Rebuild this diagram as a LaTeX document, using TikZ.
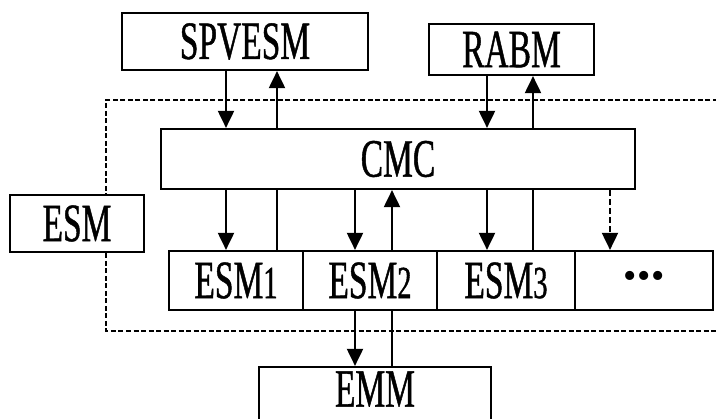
\documentclass[tikz,border=0pt]{standalone}
\usepackage{fontspec}
\setmainfont[FakeStretch=0.62,FakeBold=0.8]{Liberation Serif}
\newfontfamily\dotfont{Liberation Serif}
\usetikzlibrary{arrows.meta}
\newcommand\idx[1]{{\fontsize{46}{46}\selectfont #1}}
\begin{document}
\begin{tikzpicture}[x=1pt,y=-1pt,
  box/.style={draw, line width=2.2pt, fill=white, inner sep=0pt,
              font=\fontsize{54}{54}\selectfont},
  arr/.style={line width=2pt, -{Triangle[width=16pt,length=17pt]}},
  link/.style={line width=2pt},
  frame/.style={line width=1.9pt, dash pattern=on 5pt off 2.5pt},
  darr/.style={line width=1.9pt, dash pattern=on 6pt off 3pt,
               -{Triangle[width=16pt,length=17pt]}}]
\clip (0,0) rectangle (716,419);
\fill[white] (0,0) rectangle (716,419);

% dashed ESM frame (open towards the right)
\draw[frame] (740,100) -- (106,100) -- (106,331) -- (740,331);

% boxes
\node[box, minimum width=246pt, minimum height=57pt] (spvesm) at (245,41.5) {SPVESM};
\node[box, minimum width=165pt, minimum height=51pt] (rabm) at (511.5,49.5) {RABM};
\node[box, minimum width=474pt, minimum height=60pt] (cmc) at (398,159) {CMC};
\node[box, minimum width=134pt, minimum height=57pt] (esm) at (77,223.5) {ESM};
\node[box, minimum width=134pt, minimum height=59pt] (esm1) at (236,280.5) {ESM\idx{1}};
\node[box, minimum width=134pt, minimum height=59pt] (esm2) at (370,280.5) {ESM\idx{2}};
\node[box, minimum width=138pt, minimum height=59pt] (esm3) at (506,280.5) {ESM\idx{3}};
\node[box, minimum width=138pt, minimum height=59pt] (dots) at (644,280.5)
  {\dotfont\fontsize{38}{38}\selectfont \raisebox{1pt}{•\hspace{1pt}•\hspace{1pt}•}};
\node[box, minimum width=232pt, minimum height=70pt] (emm) at (375,402) {};
\node[font=\fontsize{54}{54}\selectfont, inner sep=0pt] (emmtext) at (375,389) {EMM};

% connector columns
\coordinate (c1) at (226,0);
\coordinate (c2) at (277,0);
\coordinate (c3) at (487,0);
\coordinate (c4) at (533,0);
\coordinate (c5) at (355,0);
\coordinate (c6) at (392,0);
\coordinate (c7) at (610,0);

% upper modules <-> CMC
\draw[arr] (spvesm.south -| c1) -- (cmc.north -| c1);
\draw[arr] (cmc.north -| c2) -- (spvesm.south -| c2);
\draw[arr] (rabm.south -| c3) -- (cmc.north -| c3);
\draw[arr] (cmc.north -| c4) -- (rabm.south -| c4);

% CMC <-> ESM instances
\draw[arr] (cmc.south -| c1) -- (esm1.north -| c1);
\draw[link] (esm1.north -| c2) -- (cmc.south -| c2);
\draw[arr] (cmc.south -| c5) -- (esm2.north -| c5);
\draw[arr] (esm2.north -| c6) -- (cmc.south -| c6);
\draw[arr] (cmc.south -| c3) -- (esm3.north -| c3);
\draw[link] (esm3.north -| c4) -- (cmc.south -| c4);
\draw[darr] (cmc.south -| c7) -- (dots.north -| c7);

% ESM2 <-> EMM
\draw[arr] (esm2.south -| c5) -- (emm.north -| c5);
\draw[link] (emm.north -| c6) -- (esm2.south -| c6);
\end{tikzpicture}
\end{document}
